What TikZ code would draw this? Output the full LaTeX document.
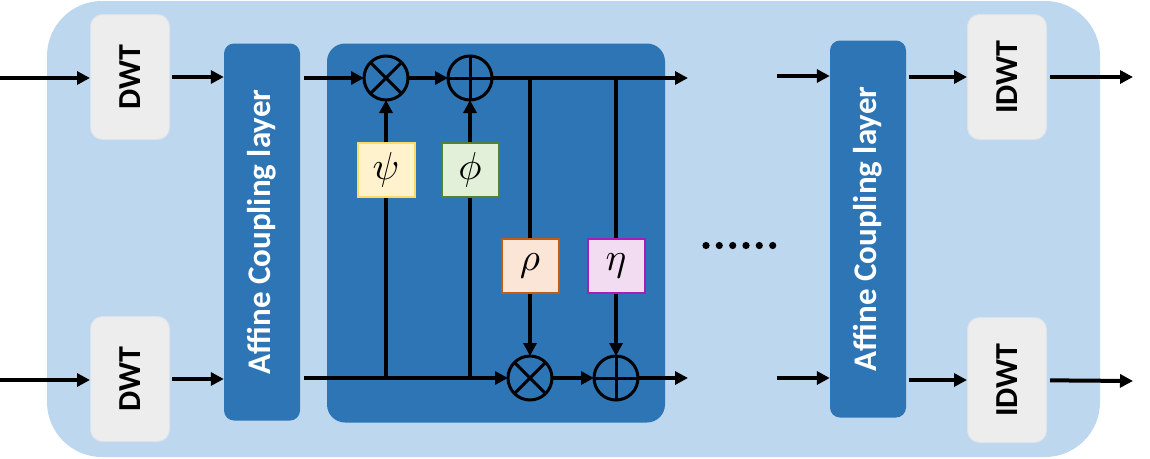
\documentclass[tikz,border=0pt]{standalone}
\usepackage{fontspec}
\setmainfont{Carlito}
\usetikzlibrary{arrows.meta,positioning,calc}
\definecolor{bgblue}{HTML}{BDD7EE}
\definecolor{aclblue}{HTML}{2E75B6}
\definecolor{dwtgray}{HTML}{EDEDED}
\definecolor{dwtline}{HTML}{DCE3EC}
\definecolor{psifill}{HTML}{FFF2CC}
\definecolor{psiline}{HTML}{FFD966}
\definecolor{phifill}{HTML}{E2F0D9}
\definecolor{philine}{HTML}{548235}
\definecolor{rhofill}{HTML}{FBE5D6}
\definecolor{rholine}{HTML}{C55A11}
\definecolor{etafill}{HTML}{F2DCF2}
\definecolor{etaline}{HTML}{A61CBD}
\newcommand{\greek}[1]{\scalebox{3.9}{$#1$}}
\tikzset{
  dwt/.style={draw=dwtline, line width=1pt, fill=dwtgray, rounded corners=12pt, minimum width=79pt, minimum height=125pt, inner sep=0pt, font=\fontsize{32}{32}\selectfont\bfseries},
  acl/.style={fill=aclblue, rounded corners=10pt, minimum width=76pt, minimum height=377pt, inner sep=0pt, text=white, font=\fontsize{33}{33}\selectfont\bfseries},
  blk/.style={fill=aclblue, rounded corners=18pt, minimum width=338pt, minimum height=379pt, inner sep=0pt},
  fn/.style={draw, line width=2pt, minimum width=57pt, minimum height=54pt, inner sep=0pt, font=\normalsize},
  op/.style={circle, draw, line width=3pt, minimum size=44pt, inner sep=0pt, outer sep=0pt},
  arr/.style={-{Triangle[length=13pt,width=13pt]}, line width=4pt},
  ln/.style={line width=4pt}}
\begin{document}
\begin{tikzpicture}[x=1pt,y=-1pt]
  \useasboundingbox (0,0) rectangle (1150,458);
  \fill[bgblue, rounded corners=55pt] (47,1) rectangle (1100,457);
  % wavelet transforms and coupling layers
  \node[dwt] (dwtA) at (130,77) {\rotatebox{90}{DWT}};
  \node[dwt] (dwtB) at (130,379) {\rotatebox{90}{DWT}};
  \node[acl] (aclA) at (262,232) {\rotatebox{90}{Affine Coupling layer}};
  \node[blk] (core) at (496,233) {};
  \node[acl] (aclB) at (868,229) {\rotatebox{90}{Affine Coupling layer}};
  \node[dwt] (idwtA) at (1007,77) {\rotatebox{90}{IDWT}};
  \node[dwt] (idwtB) at (1007,380) {\rotatebox{90}{IDWT}};
  % inside one coupling layer
  \node[op] (mulA) at (386,78) {};
  \node[op] (addA) at (470,78) {};
  \node[op] (mulB) at (530,378) {};
  \node[op] (addB) at (616,378) {};
  \node[fn, fill=psifill, draw=psiline] (psi) at (386,170) {\greek{\psi}};
  \node[fn, fill=phifill, draw=philine] (phi) at (470,170) {\greek{\phi}};
  \node[fn, fill=rhofill, draw=rholine] (rho) at (530,266) {\greek{\rho}};
  \node[fn, fill=etafill, draw=etaline] (eta) at (616,266) {\greek{\eta}};
  \foreach \c in {mulA,mulB} \draw[line width=3pt] (\c.north west) -- (\c.south east) (\c.north east) -- (\c.south west);
  \foreach \c in {addA,addB} \draw[line width=3pt] (\c.north) -- (\c.south) (\c.west) -- (\c.east);
  \coordinate (inA) at (0,78);
  \coordinate (inB) at (0,380);
  \coordinate (endA) at (688,78);
  \coordinate (endB) at (688,378);
  \coordinate (midA) at (777,76);
  \coordinate (midB) at (777,378);
  \coordinate (outA) at (1133,77);
  \coordinate (outB) at (1133,381);
  \foreach \i in {706,719.3,732.7,746,759.3,772.7} \fill (\i,245.5) circle (3.6pt);
  % connectors
  \draw[arr] (inA) -- (inA -| dwtA.west);
  \draw[arr] (inB) -- (inB -| dwtB.west);
  \draw[arr, shorten <=2pt] (dwtA) -- (aclA.west |- dwtA);
  \draw[arr, shorten <=2pt] (dwtB) -- (aclA.west |- dwtB);
  \draw[arr, shorten <=4pt] (aclA.east |- mulA) -- (mulA);
  \draw[arr, shorten <=4pt] (aclA.east |- mulB) -- (mulB);
  \draw[arr] (mulA) -- (addA);
  \draw[arr] (addA) -- (endA);
  \draw[arr] (mulB) -- (addB);
  \draw[arr] (addB) -- (endB);
  \draw[ln] (psi) -- (psi |- mulB);
  \draw[ln] (phi) -- (phi |- mulB);
  \draw[arr] (psi) -- (mulA);
  \draw[arr] (phi) -- (addA);
  \draw[ln] (rho |- addA) -- (rho);
  \draw[ln] (eta |- addA) -- (eta);
  \draw[arr] (rho) -- (mulB);
  \draw[arr] (eta) -- (addB);
  \draw[arr] (midA) -- (aclB.west |- midA);
  \draw[arr] (midB) -- (aclB.west |- midB);
  \draw[arr, shorten <=3pt] (aclB.east |- idwtA) -- (idwtA);
  \draw[arr, shorten <=3pt] (aclB.east |- idwtB) -- (idwtB);
  \draw[arr, shorten <=3pt] (idwtA) -- (outA);
  \draw[arr, shorten <=3pt] (idwtB) -- (outB);
\end{tikzpicture}
\end{document}
